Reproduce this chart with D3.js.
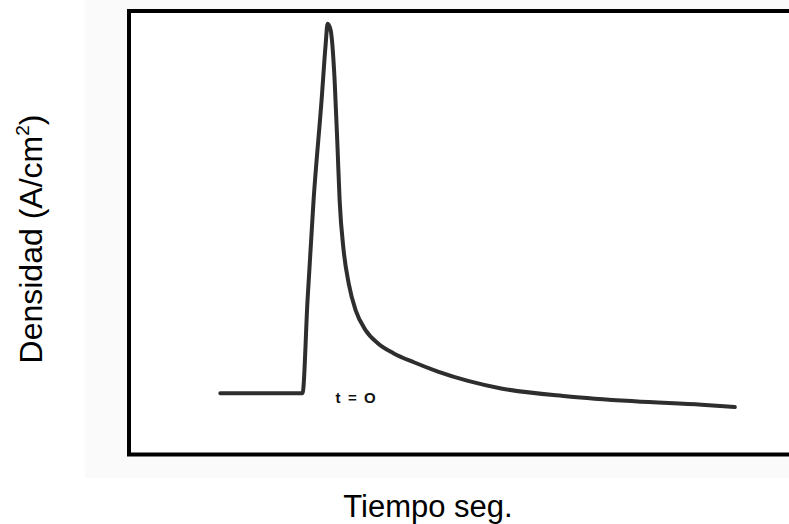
<!DOCTYPE html>
<html>
<head>
<meta charset="utf-8">
<script src="https://cdnjs.cloudflare.com/ajax/libs/d3/7.8.5/d3.min.js"></script>
<style>
	body { margin: 0; background: #fff; }
	text { font-family: Arial, "Liberation Sans", sans-serif; }
</style>
</head>
<body>
<div id="chart"></div>
<script>
// arbitrary units (t = 0 where the pulse starts)
var time = [-8.2, 0, 0.5, 1.1, 1.9, 2.3, 2.5, 2.8, 3.2, 3.5, 3.7, 4.1, 4.6, 5.3, 6.3, 7.5, 9.1, 11.1, 13.5, 16.5, 19.8, 26.5, 33.1, 39.8, 43.1];
var density = [13.8, 13.8, 34.8, 57.3, 79.9, 92.3, 97.1, 95.7, 84.4, 68.6, 57.3, 46.0, 38.6, 32.5, 28.0, 25.1, 22.8, 20.8, 18.7, 16.6, 14.9, 13.1, 12.0, 11.2, 10.7];
var t_domain = [-17.3, 48.8];
var d_domain = [0, 100];
var mark_label = "t = O";
var x_title = "Tiempo seg.";
var y_title = "Densidad (A/cm";

var w = 789, h = 524;
var frame = {left: 129, top: 11, right: 792, bottom: 454.5};

var svg = d3.select("#chart")
	.append("svg")
	.attr("width", w)
	.attr("height", h);

// faint grey of the pasted picture
svg.append("rect")
	.attr("x", 85)
	.attr("y", 0)
	.attr("width", w - 85)
	.attr("height", 478)
	.attr("fill", "#fafafa");

var x = d3.scaleLinear().domain(t_domain).range([frame.left, frame.right]);
var y = d3.scaleLinear().domain(d_domain).range([frame.bottom, frame.top]);

svg.append("rect")
	.attr("x", frame.left)
	.attr("y", frame.top)
	.attr("width", frame.right - frame.left)
	.attr("height", frame.bottom - frame.top)
	.attr("fill", "#fff")
	.attr("stroke", "#000")
	.attr("stroke-width", 4);

var pts = time.map(function(t, i) { return [t, density[i]]; });

var line = d3.line()
	.x(function(d) { return x(d[0]); })
	.y(function(d) { return y(d[1]); })
	.curve(d3.curveMonotoneX);

svg.append("path")
	.datum(pts)
	.attr("d", line)
	.attr("fill", "none")
	.attr("stroke", "#2e2e2e")
	.attr("stroke-width", 4)
	.attr("stroke-linejoin", "round")
	.attr("stroke-linecap", "round");

svg.append("text")
	.attr("x", x(3.3))
	.attr("y", 403)
	.attr("font-size", "15px")
	.attr("font-weight", "bold")
	.attr("textLength", 40)
	.attr("lengthAdjust", "spacing")
	.attr("fill", "#111")
	.text(mark_label);

svg.append("text")
	.attr("x", 428)
	.attr("y", 517)
	.attr("text-anchor", "middle")
	.attr("font-size", "31px")
	.attr("fill", "#000")
	.text(x_title);

var yt = svg.append("text")
	.attr("transform", "translate(42,239) rotate(-90)")
	.attr("text-anchor", "middle")
	.attr("font-size", "32px")
	.attr("fill", "#000");
yt.append("tspan").text(y_title);
yt.append("tspan")
	.attr("font-size", "19px")
	.attr("dy", -13)
	.text("2");
yt.append("tspan")
	.attr("dy", 13)
	.text(")");
</script>
</body>
</html>
